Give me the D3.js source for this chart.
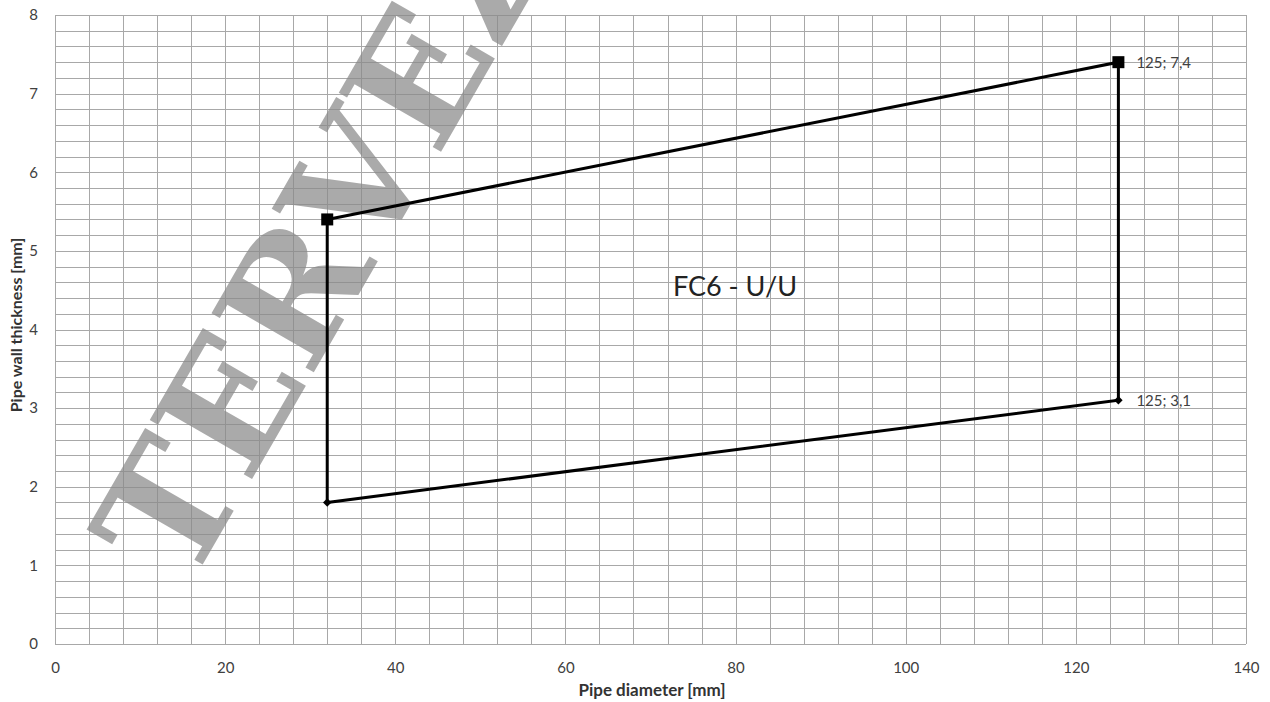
<html>
<head>
<title>pipe wall thickness</title>
<script src="https://d3js.org/d3.v7.min.js"></script>
<style>
body { margin: 0; background: #fff; }
svg { display: block; font-family: Lato, 'Open Sans', sans-serif; }
</style>
</head>
<body>
<svg id="chart" width="1270" height="702"></svg>
<script>
// chart values
var diameters = [32, 125];
var upperThickness = [5.4, 7.4];
var lowerThickness = [1.8, 3.1];
var xTicks = [0, 20, 40, 60, 80, 100, 120, 140];
var yTicks = [0, 1, 2, 3, 4, 5, 6, 7, 8];
var pointLabels = ["125; 7,4", "125; 3,1"];

var svg = d3.select("#chart");
var plotLeft = 55, plotRight = 1246, plotTop = 15, plotBottom = 644;

var x = d3.scaleLinear().domain([0, 140]).range([plotLeft, plotRight]);
var y = d3.scaleLinear().domain([0, 8]).range([plotBottom, plotTop]);

// grid: every 4 mm across, every 0.2 mm up
var grid = svg.append("g").attr("stroke", "#a8a8a8").attr("stroke-width", 1);
d3.range(0, 141, 4).forEach(function (v) {
	grid.append("line")
	.attr("x1", Math.round(x(v)) + 0.5).attr("x2", Math.round(x(v)) + 0.5)
	.attr("y1", plotTop).attr("y2", plotBottom);
});
d3.range(0, 41).forEach(function (i) {
	var yy = Math.round(y(i * 0.2)) + 0.5;
	grid.append("line")
	.attr("x1", plotLeft).attr("x2", plotRight)
	.attr("y1", yy).attr("y2", yy);
});

// axes (labels only, Excel style)
var xAxis = d3.axisBottom(x).tickValues(xTicks).tickSize(0).tickPadding(18);
var yAxis = d3.axisLeft(y).tickValues(yTicks).tickSize(0).tickPadding(17);
var gx = svg.append("g").attr("transform", "translate(0," + plotBottom + ")").call(xAxis);
var gy = svg.append("g").attr("transform", "translate(" + plotLeft + ",0)").call(yAxis);
[gx, gy].forEach(function (g) {
	g.select(".domain").remove();
	g.selectAll("text").attr("font-size", 15).attr("fill", "#404040")
	.attr("font-family", "Lato, sans-serif");
});

svg.append("text")
.text("Pipe diameter [mm]")
.attr("x", 652).attr("y", 696)
.attr("text-anchor", "middle")
.attr("font-size", 17).attr("font-weight", "bold").attr("fill", "#333");

svg.append("text")
.text("Pipe wall thickness [mm]")
.attr("transform", "translate(22,325) rotate(-90)")
.attr("text-anchor", "middle")
.attr("font-size", 16).attr("font-weight", "bold").attr("fill", "#333");

// watermark
svg.append("text")
.text("TERVEZŐ")
.attr("transform", "translate(188,590) rotate(-60)")
.attr("font-family", "'DejaVu Serif', serif")
.attr("font-weight", "bold")
.attr("font-size", 162)
.attr("fill", "#8a8a8a")
.attr("opacity", 0.72);

// outline of the region
var upper = diameters.map(function (d, i) { return [d, upperThickness[i]]; });
var lower = diameters.map(function (d, i) { return [d, lowerThickness[i]]; });
var line = d3.line().x(function (d) { return x(d[0]); }).y(function (d) { return y(d[1]); });

var outline = [upper[0], upper[1], lower[1], lower[0], upper[0]];
svg.append("path")
.attr("d", line(outline))
.attr("fill", "none")
.attr("stroke", "#000")
.attr("stroke-width", 3)
.attr("stroke-linejoin", "miter");

upper.forEach(function (p) {
	svg.append("rect")
	.attr("x", x(p[0]) - 6).attr("y", y(p[1]) - 6)
	.attr("width", 12).attr("height", 12)
	.attr("fill", "#000");
});
lower.forEach(function (p) {
	svg.append("path")
	.attr("d", d3.symbol().type(d3.symbolDiamond2).size(45)())
	.attr("transform", "translate(" + x(p[0]) + "," + y(p[1]) + ")")
	.attr("fill", "#000");
});

svg.append("text")
.text(pointLabels[0])
.attr("x", x(upper[1][0]) + 18).attr("y", y(upper[1][1]) + 6)
.attr("font-size", 15).attr("fill", "#404040");
svg.append("text")
.text(pointLabels[1])
.attr("x", x(lower[1][0]) + 18).attr("y", y(lower[1][1]) + 6)
.attr("font-size", 15).attr("fill", "#404040");

svg.append("text")
.text("FC6 - U/U")
.attr("x", 735).attr("y", 296)
.attr("text-anchor", "middle")
.attr("font-size", 27).attr("fill", "#222");
</script>
</body>
</html>
